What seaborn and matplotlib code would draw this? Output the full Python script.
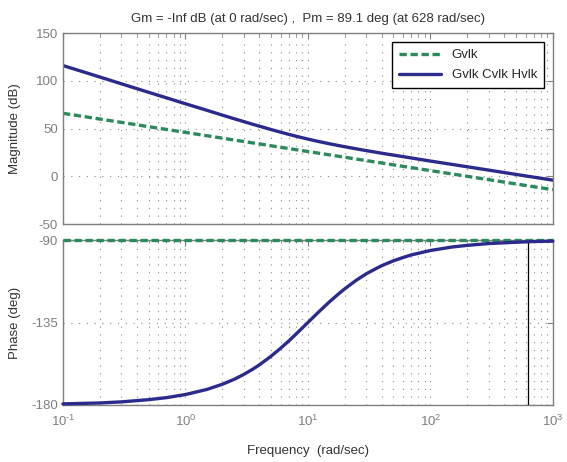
import numpy as np
import pandas as pd
import matplotlib
matplotlib.use("Agg")
import matplotlib.pyplot as plt
import seaborn as sns
from matplotlib.ticker import LogLocator, NullFormatter, FixedLocator, FixedFormatter

# ---- data ----
freq = [0.1, 0.15, 0.2, 0.3, 0.5, 0.7, 1, 1.5, 2, 2.5, 3, 3.5, 4, 5, 6, 7, 8, 9, 10, 12,
        15, 18, 20, 25, 30, 35, 40, 50, 60, 70, 100, 150, 200, 300, 500, 700, 1000]
mag_gvlk = [66.0, 62.5, 60.0, 56.5, 52.0, 49.1, 46.0, 42.5, 40.0, 38.0, 36.5, 35.1, 34.0,
            32.0, 30.4, 29.1, 27.9, 26.9, 26.0, 24.4, 22.5, 20.9, 20.0, 18.0, 16.5, 15.1,
            14.0, 12.0, 10.4, 9.1, 6.0, 2.5, 0.0, -3.5, -8.0, -10.9, -14.0]
mag_loop = [116.0, 109.0, 104.0, 96.9, 88.0, 82.2, 76.0, 69.1, 64.1, 60.3, 57.3, 54.7, 52.6,
            49.0, 46.2, 43.9, 42.0, 40.4, 39.0, 36.7, 34.1, 32.1, 31.0, 28.7, 26.9, 25.5,
            24.2, 22.2, 20.6, 19.2, 16.0, 12.5, 10.0, 6.5, 2.0, -0.9, -4.0]
ph_gvlk = [-90.0] * len(freq)
ph_loop = [-179.4, -179.1, -178.9, -178.3, -177.1, -176.0, -174.3, -171.5, -168.7, -166.0,
           -163.3, -160.7, -158.2, -153.4, -149.0, -145.0, -141.3, -138.0, -135.0, -129.8,
           -123.7, -119.1, -116.6, -111.8, -108.4, -106.0, -104.0, -101.3, -99.5, -98.1,
           -95.7, -93.8, -92.9, -91.9, -91.2, -90.8, -90.6]
series = ["Gvlk", "Gvlk Cvlk Hvlk"]
xtick_vals = [0.1, 1, 10, 100, 1000]
xtick_labels = [r"$10^{\text{-}1}$", r"$10^{0}$", r"$10^{1}$", r"$10^{2}$", r"$10^{3}$"]
title = "Gm = -Inf dB (at 0 rad/sec) ,  Pm = 89.1 deg (at 628 rad/sec)"
wcp = 628
ph_at_wcp = -90.9

sns.set_style("white")
plt.rcParams["font.family"] = ["Liberation Sans", "DejaVu Sans"]
plt.rcParams["mathtext.fontset"] = "custom"
plt.rcParams["mathtext.rm"] = "Liberation Sans"
plt.rcParams["mathtext.it"] = "Liberation Sans"
plt.rcParams["axes.unicode_minus"] = False

df = pd.DataFrame({
    "freq": freq * 2,
    "mag": mag_gvlk + mag_loop,
    "phase": ph_gvlk + ph_loop,
    "sys": [series[0]] * len(freq) + [series[1]] * len(freq),
})

green = "#2a8a5c"
blue = "#2b2b8e"
palette = {series[0]: green, series[1]: blue}
dashes = {series[0]: (2.2, 1.1), series[1]: ""}

fig = plt.figure(figsize=(5.67, 4.62), dpi=100)
ax1 = fig.add_axes([0.111, 0.515, 0.864, 0.4134])
ax2 = fig.add_axes([0.111, 0.1234, 0.864, 0.357])

sns.lineplot(data=df, x="freq", y="mag", hue="sys", style="sys", palette=palette,
             dashes=dashes, linewidth=2.4, ax=ax1)
sns.lineplot(data=df, x="freq", y="phase", hue="sys", style="sys", palette=palette,
             dashes=dashes, linewidth=2.4, ax=ax2, legend=False)
for ln in ax2.lines:
    ln.set_clip_on(False)
    ln.set_zorder(5)
ax2.plot([wcp, wcp], [-180, ph_at_wcp], color="black", linewidth=0.9, zorder=4)

gray = "#7f7f7f"
for ax in (ax1, ax2):
    ax.set_xscale("log")
    ax.set_xlim(0.1, 1000)
    ax.xaxis.set_major_locator(FixedLocator(xtick_vals))
    ax.xaxis.set_major_formatter(FixedFormatter(xtick_labels))
    ax.xaxis.set_minor_locator(LogLocator(base=10, subs=np.arange(2, 10), numticks=20))
    ax.xaxis.set_minor_formatter(NullFormatter())
    ax.tick_params(which="both", direction="in", top=True, right=True, colors=gray,
                   labelsize=9.5, labelcolor=gray)
    ax.tick_params(which="major", length=4)
    ax.tick_params(which="minor", length=2)
    for s in ax.spines.values():
        s.set_color(gray)
        s.set_linewidth(1.0)
    ax.grid(True, which="both", axis="x", linestyle=(0, (1, 6)), color="#8a8a8a", linewidth=0.8)
    ax.grid(True, which="major", axis="y", linestyle=(0, (1, 6)), color="#8a8a8a", linewidth=0.8)

ax1.set_ylim(-50, 150)
ax1.set_yticks([-50, 0, 50, 100, 150])
ax1.tick_params(axis="x", labelbottom=False)
ax1.set_xlabel("")
ax1.set_ylabel("Magnitude (dB)", fontsize=9.5, color="#333333")
ax1.set_title(title, fontsize=9.5, color="#333333", pad=8)

ax2.set_ylim(-180, -90)
ax2.set_yticks([-180, -135, -90])
ax2.tick_params(axis="x", pad=6)
ax2.set_ylabel("Phase (deg)", fontsize=9.5, color="#333333")
ax2.set_xlabel("Frequency  (rad/sec)", fontsize=9.5, color="#333333", labelpad=12)

ax1.yaxis.set_label_coords(-0.085, 0.5)
ax2.yaxis.set_label_coords(-0.085, 0.5)

leg = ax1.legend(loc="upper right", fontsize=9.5, frameon=True, fancybox=False,
                 edgecolor="black", framealpha=1, borderaxespad=0.7, handlelength=3.2,
                 labelspacing=0.6, borderpad=0.5)
leg.get_frame().set_linewidth(1.0)
leg.set_title(None)

fig.savefig("out.png", dpi=100)
